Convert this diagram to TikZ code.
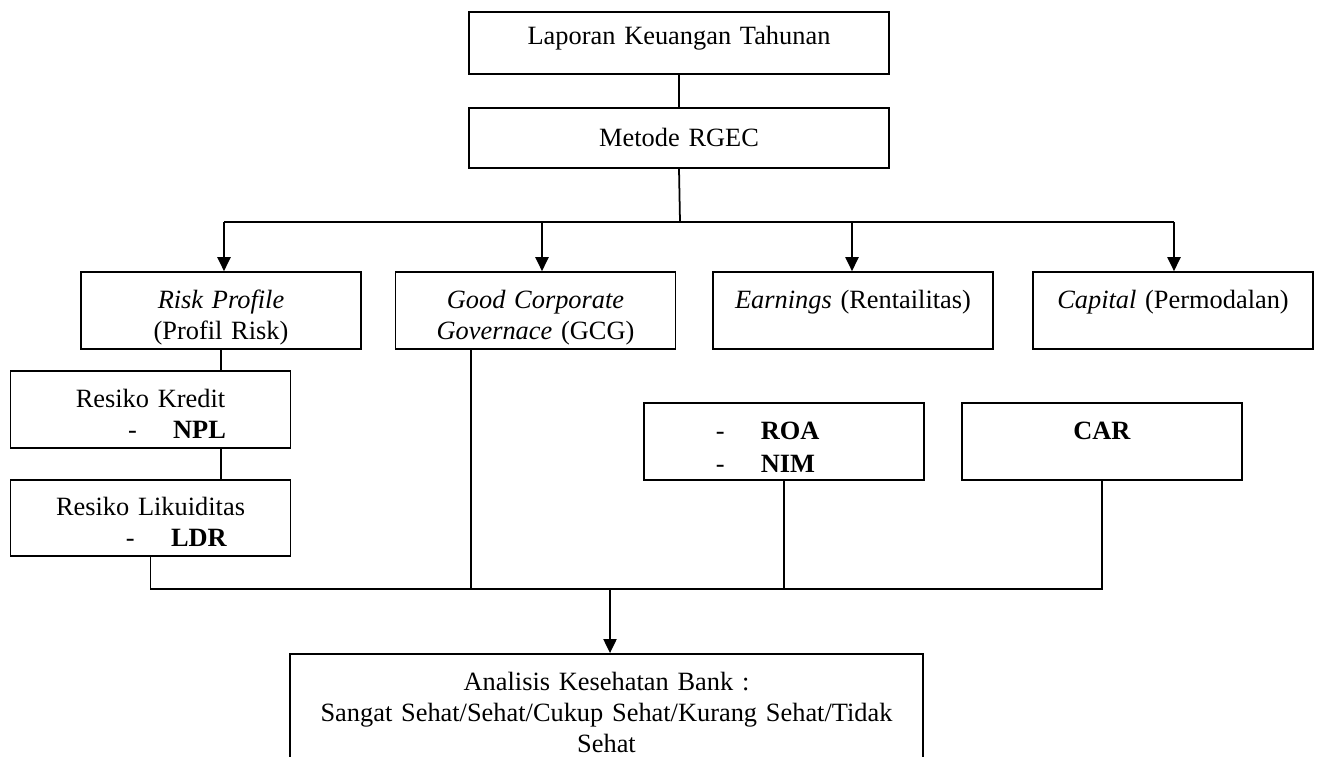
\documentclass[tikz,border=0pt]{standalone}
\usepackage{fontspec}
\setmainfont{Liberation Serif}
\usetikzlibrary{arrows.meta}

\newcommand{\satuan}{0.455pt}
\newcommand{\butir}[1]{\makebox[20.5pt][l]{-}\textbf{#1}}

\begin{document}
\begin{tikzpicture}[x=\satuan, y=-\satuan,
    font=\fontsize{12}{14.3}\selectfont,
    kotak/.style={draw, line width=0.8pt, align=center,
      minimum width=127.4pt, minimum height=35pt, text width=115pt,
      text height=9pt, text depth=11.2pt},
    garis/.style={line width=0.8pt},
    panah/.style={line width=0.8pt, -{Triangle[length=6.4pt,width=6pt]}}]

  \useasboundingbox (0,0) rectangle (1318,756);

  % KOTAK ATAS
  \node[kotak, minimum width=191.1pt, minimum height=28.2pt, text width=180pt,
    text depth=7.2pt] (lap) at (679,43) {Laporan Keuangan Tahunan};
  \node[kotak, minimum width=191.1pt, minimum height=27.3pt, text width=180pt,
    text depth=1.7pt] (met) at (679,138) {Metode RGEC};

  % KOTAK RGEC
  \node[kotak] (risk) at (221,310.5) {\textit{Risk Profile}\\(Profil Risk)};
  \node[kotak] (gcg)  at (535.5,310.5) {\textit{Good Corporate}\\\textit{Governace} (GCG)};
  \node[kotak] (earn) at (853,310.5) {\textit{Earnings} (Rentailitas)};
  \node[kotak] (cap)  at (1173,310.5) {\textit{Capital} (Permodalan)};

  % RASIO
  \node[kotak] (kred) at (150.5,409.5)
    {Resiko Kredit\\\makebox[20.4pt][l]{\butir{NPL}}};
  \node[kotak, minimum height=34.6pt, text depth=11.7pt] (likd) at (150.5,518)
    {Resiko Likuiditas\\\makebox[22.3pt][l]{\butir{LDR}}};
  \node[kotak] (roa) at (784,441.5)
    {\makebox[62pt][l]{\butir{ROA}}\\[1pt]\makebox[62pt][l]{\butir{NIM}}};
  \node[kotak] (car) at (1102,441.5) {\textbf{CAR}};

  % HASIL
  \node[kotak, minimum width=288pt, minimum height=59.2pt, text width=275pt,
    text depth=35.4pt] (anl) at (606.5,719)
    {Analisis Kesehatan Bank :\\Sangat Sehat/Sehat/Cukup Sehat/Kurang Sehat/Tidak\\Sehat};

  % GARIS ATAS
  \coordinate (bagi) at (680,222);
  \coordinate (ki) at (224,222);
  \coordinate (ka) at (1174,222);
  \draw[garis] (lap.south) -- (met.north);
  \draw[garis] (met.south) -- (bagi);
  \draw[garis] (ki) -- (ka);
  \foreach \x/\n in {224/risk,542/gcg,852/earn,1174/cap}
    \draw[panah] (\x,222) -- (\x,222 |- \n.north);

  % GARIS BAWAH
  \coordinate (gabung) at (610,589);
  \draw[garis] (risk.south) -- (kred.north -| risk.south);
  \draw[garis] (kred.south -| risk.south) -- (likd.north -| risk.south);
  \draw[garis] (likd.south) -- (likd.south |- gabung) -- (car.south |- gabung) -- (car.south);
  \draw[garis] (gcg.south -| 471,0) -- (471,0 |- gabung);
  \draw[garis] (roa.south) -- (roa.south |- gabung);
  \draw[panah] (gabung) -- (gabung |- anl.north);

\end{tikzpicture}
\end{document}
